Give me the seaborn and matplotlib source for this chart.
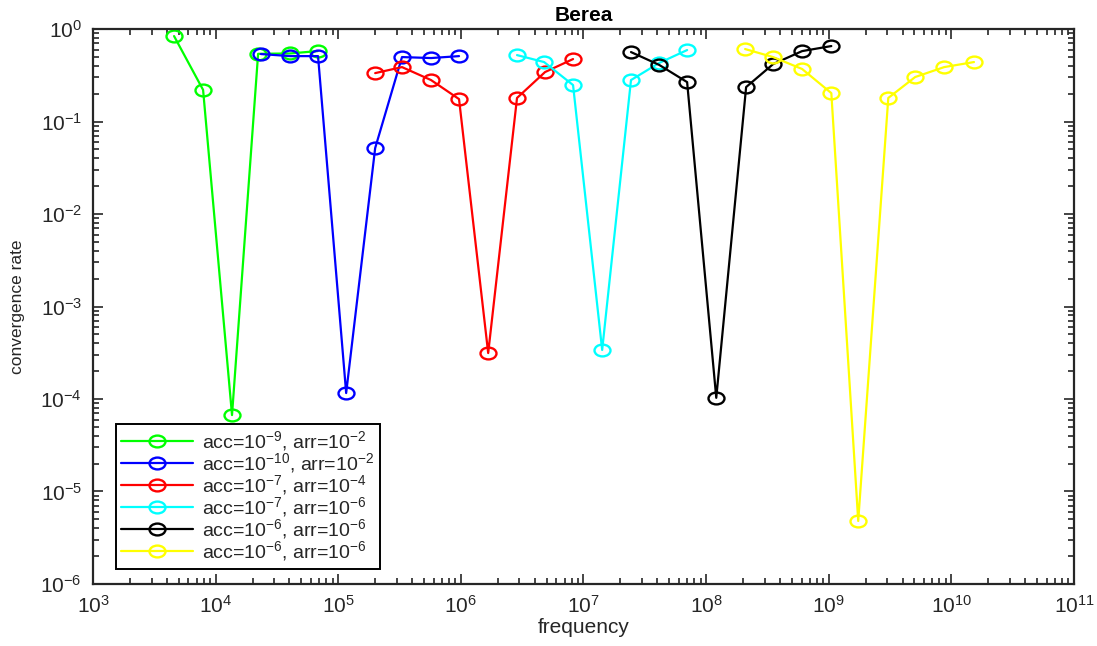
import numpy as np
import pandas as pd
import matplotlib
matplotlib.use("Agg")
import matplotlib.pyplot as plt
from matplotlib.path import Path
from matplotlib.transforms import Affine2D
from matplotlib.ticker import LogLocator, FixedLocator, NullFormatter
import seaborn as sns

# ---- data -------------------------------------------------------------
labels = [
    r"acc=$10^{-9}$, arr=$10^{-2}$",
    r"acc=$10^{-10}$, arr=$10^{-2}$",
    r"acc=$10^{-7}$, arr=$10^{-4}$",
    r"acc=$10^{-7}$, arr=$10^{-6}$",
    r"acc=$10^{-6}$, arr=$10^{-6}$",
    r"acc=$10^{-6}$, arr=$10^{-6}$",
]
colors = ["#00ff00", "#0000ff", "#ff0000", "#00ffff", "#000000", "#ffff00"]

freq_green = [4.58e3, 7.9e3, 1.36e4, 2.22e4, 4.05e4, 6.8e4]
rate_green = [0.84, 0.22, 6.7e-5, 0.54, 0.545, 0.578]

freq_blue = [2.34e4, 4.05e4, 6.84e4, 1.16e5, 2.0e5, 3.31e5, 5.71e5, 9.66e5]
rate_blue = [0.537, 0.51, 0.51, 1.16e-4, 0.0517, 0.498, 0.486, 0.51]

freq_red = [2.0e5, 3.31e5, 5.71e5, 9.66e5, 1.67e6, 2.87e6, 4.86e6, 8.22e6]
rate_red = [0.334, 0.388, 0.281, 0.175, 3.14e-4, 0.18, 0.343, 0.474]

freq_cyan = [2.87e6, 4.77e6, 8.22e6, 1.42e7, 2.44e7, 4.14e7, 7.0e7]
rate_cyan = [0.523, 0.44, 0.248, 3.39e-4, 0.281, 0.43, 0.593]

freq_black = [2.44e7, 4.14e7, 7.0e7, 1.21e8, 2.12e8, 3.52e8, 6.07e8, 1.05e9]
rate_black = [0.564, 0.41, 0.267, 1.03e-4, 0.236, 0.418, 0.578, 0.655]

freq_yellow = [2.08e8, 3.52e8, 6.07e8, 1.05e9, 1.74e9, 3.06e9, 5.07e9, 8.74e9, 1.53e10]
rate_yellow = [0.608, 0.498, 0.37, 0.203, 4.8e-6, 0.18, 0.303, 0.388, 0.44]

freqs = [freq_green, freq_blue, freq_red, freq_cyan, freq_black, freq_yellow]
rates = [rate_green, rate_blue, rate_red, rate_cyan, rate_black, rate_yellow]

x_decades = np.arange(3, 12)
y_decades = np.arange(-6, 1)

# ---- style ------------------------------------------------------------
sns.set_theme(style="ticks")
plt.rcParams["font.family"] = ["Liberation Sans", "DejaVu Sans"]
plt.rcParams["mathtext.fontset"] = "custom"
plt.rcParams["mathtext.rm"] = "Liberation Sans"
plt.rcParams["mathtext.it"] = "Liberation Sans:italic"
plt.rcParams["mathtext.bf"] = "Liberation Sans:bold"
plt.rcParams["mathtext.sf"] = "Liberation Sans"

axis_color = "#262626"

# slightly wide open circle marker
ring = Path.unit_circle().transformed(Affine2D().scale(1.35, 1.0))

fig = plt.figure(figsize=(10.97, 6.46), dpi=100)
ax = fig.add_axes([0.0848, 0.096, 0.8942, 0.859])

for f, r, c, lab in zip(freqs, rates, colors, labels):
    df = pd.DataFrame({"frequency": f, "rate": r})
    sns.lineplot(
        data=df, x="frequency", y="rate", ax=ax, sort=False, estimator=None,
        color=c, linewidth=1.6, marker=ring, markersize=11.5,
        markerfacecolor="none", markeredgecolor=c, markeredgewidth=1.7,
        label=lab,
    )

ax.set_xscale("log")
ax.set_yscale("log")
ax.set_xlim(10.0 ** x_decades[0], 10.0 ** x_decades[-1])
ax.set_ylim(10.0 ** y_decades[0], 10.0 ** y_decades[-1])

ax.xaxis.set_major_locator(FixedLocator(10.0 ** x_decades))
ax.yaxis.set_major_locator(FixedLocator(10.0 ** y_decades))
ax.xaxis.set_minor_locator(LogLocator(base=10, subs=np.arange(2, 10), numticks=100))
ax.yaxis.set_minor_locator(LogLocator(base=10, subs=np.arange(2, 10), numticks=100))
ax.xaxis.set_minor_formatter(NullFormatter())
ax.yaxis.set_minor_formatter(NullFormatter())
ax.set_xticklabels([rf"$10^{{{d}}}$" for d in x_decades])
ax.set_yticklabels([rf"$10^{{{d}}}$" for d in y_decades])

ax.tick_params(which="both", direction="in", top=True, right=True,
               colors=axis_color, labelsize=15, width=1.2)
ax.tick_params(which="major", length=7, pad=8)
ax.tick_params(which="minor", length=4)
for s in ax.spines.values():
    s.set_color(axis_color)
    s.set_linewidth(1.6)

ax.set_title("Berea", fontsize=15, fontweight="bold", color="black", pad=6)
ax.set_xlabel("frequency", fontsize=15, color=axis_color, labelpad=1)
ax.set_ylabel("convergence rate", fontsize=12.5, color=axis_color, labelpad=11)

leg = ax.legend(loc="lower left", bbox_to_anchor=(0.023, 0.027),
                fontsize=14, frameon=True, fancybox=False, framealpha=1,
                edgecolor="black", handlelength=3.7, handletextpad=0.45,
                labelspacing=-0.1, borderpad=0.3, borderaxespad=0.0)
leg.get_frame().set_linewidth(1.4)

fig.savefig("out.png", dpi=100)
